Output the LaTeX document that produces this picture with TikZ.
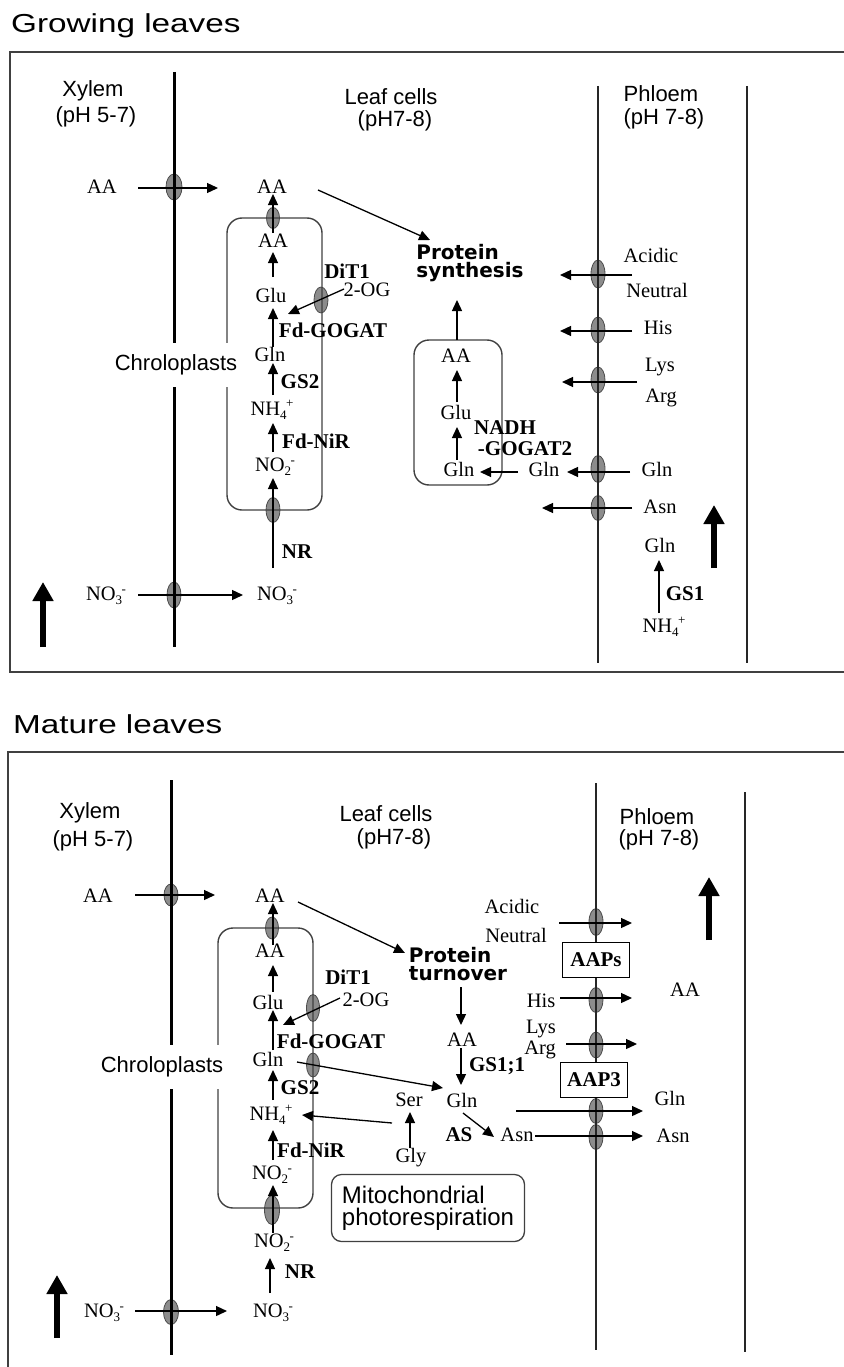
\documentclass[tikz,border=0pt]{standalone}
\usepackage{fontspec}
\setmainfont{Liberation Serif}
\setsansfont{Liberation Sans}
\newfontfamily\protfont{DejaVu Sans}
\usetikzlibrary{arrows.meta,shapes.geometric,calc}
\pgfdeclarelayer{bg}
\pgfsetlayers{bg,main}
\newcommand{\ionsub}[2]{\raisebox{-4pt}{\fontsize{13}{13}\selectfont #1}\kern-0.5pt\raisebox{7.5pt}{\fontsize{13}{13}\selectfont #2}}
\begin{document}
\begin{tikzpicture}[x=1pt,y=-1pt,
  lab/.style={font=\fontsize{20.5}{22}\selectfont, inner sep=0pt},
  enz/.style={font=\fontsize{21}{23}\selectfont\bfseries, inner sep=0pt},
  sf/.style={font=\sffamily\fontsize{22}{26}\selectfont, inner sep=0pt},
  ttl/.style={font=\sffamily\fontsize{26}{30}\selectfont, inner sep=0pt, anchor=base west},
  prot/.style={font=\protfont\bfseries\fontsize{20}{18.5}\selectfont, align=left, inner sep=0pt},
  arr/.style={-{Triangle[length=11pt,width=10pt]}, line width=1.3pt},
  bigarr/.style={-{Triangle[length=19pt,width=20pt]}, line width=6pt},
  memb/.style 2 args={ellipse, draw=black!70, fill=black!45, line width=0.8pt, minimum width=#1pt, minimum height=#2pt, inner sep=0pt},
  frm/.style={draw=black!75, line width=2pt},
  xyl/.style={line width=3pt},
  phl/.style={line width=1.5pt, black!85},
  cbox/.style={draw=black!75, line width=1.4pt, rounded corners=15pt},
  tbox/.style={draw, fill=white, line width=1.3pt, minimum width=67pt, minimum height=35pt, inner sep=0pt, font=\fontsize{21}{23}\selectfont\bfseries},
  mbox/.style={draw=black!75, line width=1.3pt, rounded corners=10pt, minimum width=193pt, minimum height=67pt, align=left, inner sep=0pt, font=\sffamily\fontsize{24}{22}\selectfont},
  chl/.style={font=\sffamily\fontsize{22}{26}\selectfont, fill=white, inner xsep=3pt, inner ysep=12pt}
]
\useasboundingbox (0,0) rectangle (843,1367);

% ---------- coordinates ----------
\coordinate (xt1) at (174,72);   \coordinate (xb1) at (174,647);
\coordinate (pa1) at (598,86);   \coordinate (pb1) at (598,663);
\coordinate (qa1) at (747,86);   \coordinate (qb1) at (747,663);
\coordinate (xt2) at (171,780);  \coordinate (xb2) at (171,1355);
\coordinate (pa2) at (596,783);  \coordinate (pb2) at (596,1350);
\coordinate (qa2) at (745,792);  \coordinate (qb2) at (745,1352);

\coordinate (acE1) at (560,275);
\coordinate (hiE1) at (560,331);
\coordinate (lyE1) at (562,382);
\coordinate (asE1) at (542,508);
\coordinate (acE2) at (632,923);
\coordinate (hiE2) at (632,998);
\coordinate (lyE2) at (637,1044);

\coordinate (bA1) at (43,647);  \coordinate (bB1) at (43,582);
\coordinate (bA2) at (714,568); \coordinate (bB2) at (714,505);
\coordinate (bA3) at (57,1338); \coordinate (bB3) at (57,1275);
\coordinate (bA4) at (709,940); \coordinate (bB4) at (709,877);

% ---------- background: frames, membranes, compartments ----------
\begin{pgfonlayer}{bg}
\draw[frm] (10,52) rectangle (855,672);
\draw[frm] (8,752) rectangle (855,1385);

\node[memb={16}{26}] (ex1a) at (174,187) {};
\node[memb={14}{26}] (ex1b) at (174,595) {};
\node[memb={13}{21}] (ec1t) at (273,218) {};
\node[memb={14}{26}] (ec1r) at (321,300) {};
\node[memb={14}{25}] (ec1b) at (273,510) {};
\node[memb={14}{28}] (ep1a) at (598,274) {};
\node[memb={14}{26}] (ep1b) at (598,330) {};
\node[memb={14}{26}] (ep1c) at (598,380) {};
\node[memb={14}{27}] (ep1d) at (598,469) {};
\node[memb={14}{25}] (ep1e) at (598,508) {};

\node[memb={14}{22}] (ex2a) at (171,895) {};
\node[memb={15}{25}] (ex2b) at (171,1312) {};
\node[memb={13}{22}] (ec2t) at (272,928) {};
\node[memb={13}{27}] (ec2r1) at (313,1008) {};
\node[memb={13}{24}] (ec2r2) at (313,1065) {};
\node[memb={15}{29}] (ec2b) at (272,1210) {};
\node[memb={14}{27}] (ep2a) at (596,922) {};
\node[memb={14}{25}] (ep2b) at (596,1000) {};
\node[memb={14}{26}] (ep2c) at (596,1045) {};
\node[memb={14}{25}] (ep2d) at (596,1111) {};
\node[memb={14}{25}] (ep2e) at (596,1137) {};

\draw[xyl] (xt1) -- (xb1);
\draw[xyl] (xt2) -- (xb2);
\draw[phl] (pa1) -- (pb1);
\draw[phl] (qa1) -- (qb1);
\draw[phl] (pa2) -- (pb2);
\draw[phl] (qa2) -- (qb2);
\draw[cbox] (227,218) rectangle (322,510);
\draw[cbox] (414,340) rectangle (502,485);
\draw[cbox] (218,928) rectangle (313,1208);
\end{pgfonlayer}

% ================= Panel 1: Growing leaves =================
\node[ttl] (t1) at (11,33) {\scalebox{1.28}[1]{Growing leaves}};
\node[sf] (xy1) at (93,91) {Xylem};
\node[sf] (xyp1) at (96,117) {(pH 5-7)};
\node[sf] (lc1) at (391,97) {Leaf cells};
\node[sf] (lcp1) at (395,121) {(pH7-8)};
\node[sf] (ph1) at (661,94) {Phloem};
\node[sf] (php1) at (664,119) {(pH 7-8)};
\node[chl] (chl1) at (176,365) {Chroloplasts};

\node[lab] (aaL1) at (102,187) {AA};
\node[lab] (aaC1) at (272,187) {AA};
\node[lab] (aaI1) at (273,241) {AA};
\node[lab] (glu1) at (271,295) {Glu};
\node[enz] (dit1) at (347,271) {DiT1};
\node[lab] (og1) at (367,290) {2-OG};
\node[enz] (gog1) at (333,330) {Fd-GOGAT};
\node[lab] (gln1) at (270,354) {Gln};
\node[enz] (gs2a) at (300,382) {GS2};
\node[lab] (nh1) at (272,410) {NH\ionsub{4}{+}};
\node[enz] (nir1) at (316,441) {Fd-NiR};
\node[lab] (no2a) at (275,467) {NO\ionsub{2}{-}};
\node[enz] (nr1) at (297,552) {NR};
\node[lab] (no3c1) at (277,596) {NO\ionsub{3}{-}};
\node[lab] (no3l1) at (106,596) {NO\ionsub{3}{-}};

\node[prot] (ps1) at (470,263) {Protein\\synthesis};
\node[lab] (aaM1) at (456,356) {AA};
\node[lab] (gluM1) at (456,412) {Glu};
\node[lab] (glnM1) at (459,469) {Gln};
\node[enz] (nadh) at (505,428) {NADH};
\node[enz] (gog2a) at (525,449) {-GOGAT2};
\node[lab] (glnX1) at (544,469) {Gln};

\node[lab] (acid1) at (651,255) {Acidic};
\node[lab] (neut1) at (657,290) {Neutral};
\node[lab] (his1) at (658,328) {His};
\node[lab] (lys1) at (660,367) {Lys};
\node[lab] (arg1) at (661,398) {Arg};
\node[lab] (glnP1) at (657,469) {Gln};
\node[lab] (asnP1) at (660,507) {Asn};
\node[lab] (glnB1) at (660,545) {Gln};
\node[enz] (gs1) at (685,594) {GS1};
\node[lab] (nhP1) at (664,627) {NH\ionsub{4}{+}};

\draw[arr] ($(aaL1)+(36,1)$) -- ($(aaC1)+(-54,1)$);
\draw[arr] ($(aaI1)+(0,-8)$) -- ($(aaC1)+(1,7)$);
\draw[arr] ($(glu1)+(2,-18)$) -- ($(aaI1)+(0,11)$);
\draw[arr] ($(og1)+(-23,-1)$) -- ($(gog1)+(-45,-16)$);
\draw[arr] ($(gln1)+(3,-7)$) -- ($(glu1)+(2,13)$);
\draw[arr] ($(nh1)+(1,-15)$) -- ($(gln1)+(3,9)$);
\draw[arr] ($(no2a)+(-2,-15)$) -- ($(nh1)+(1,13)$);
\draw[arr] ($(no3c1)+(-4,-28)$) -- ($(no2a)+(-2,11)$);
\draw[arr] ($(no3l1)+(32,-1)$) -- ($(no3c1)+(-34,-1)$);
\draw[arr] ($(aaC1)+(46,3)$) -- ($(ps1)+(-40,-23)$);
\draw[arr] ($(aaM1)+(1,-16)$) -- ($(ps1)+(-13,37)$);
\draw[arr] ($(gluM1)+(1,-10)$) -- ($(aaM1)+(1,14)$);
\draw[arr] ($(glnM1)+(-2,-9)$) -- ($(gluM1)+(1,15)$);
\draw[arr] ($(glnX1)+(-26,3)$) -- ($(glnM1)+(21,3)$);
\draw[arr] ($(glnP1)+(-27,3)$) -- ($(glnX1)+(23,3)$);
\draw[arr] ($(acid1)+(-19,20)$) -- (acE1);
\draw[arr] ($(his1)+(-26,3)$) -- (hiE1);
\draw[arr] ($(lys1)+(-23,15)$) -- (lyE1);
\draw[arr] ($(asnP1)+(-28,1)$) -- (asE1);
\draw[arr] ($(nhP1)+(-5,-14)$) -- ($(glnB1)+(-1,15)$);
\draw[bigarr] (bA1) -- (bB1);
\draw[bigarr] (bA2) -- (bB2);

% ================= Panel 2: Mature leaves =================
\node[ttl] (t2) at (13,733) {\scalebox{1.28}[1]{Mature leaves}};
\node[sf] (xy2) at (90,813) {Xylem};
\node[sf] (xyp2) at (93,841) {(pH 5-7)};
\node[sf] (lc2) at (386,814) {Leaf cells};
\node[sf] (lcp2) at (394,839) {(pH7-8)};
\node[sf] (ph2) at (657,817) {Phloem};
\node[sf] (php2) at (659,840) {(pH 7-8)};
\node[chl, inner xsep=4pt] (chl2) at (162,1067) {Chroloplasts};

\node[lab] (aaL2) at (98,896) {AA};
\node[lab] (aaC2) at (270,896) {AA};
\node[lab] (aaI2) at (270,951) {AA};
\node[lab] (glu2) at (268,1002) {Glu};
\node[enz] (dit2) at (348,977) {DiT1};
\node[lab] (og2) at (366,1000) {2-OG};
\node[enz] (gog2) at (331,1041) {Fd-GOGAT};
\node[lab] (gln2) at (268,1059) {Gln};
\node[enz] (gs2b) at (300,1088) {GS2};
\node[lab] (nh2) at (271,1115) {NH\ionsub{4}{+}};
\node[enz] (nir2) at (311,1150) {Fd-NiR};
\node[lab] (no2b) at (272,1175) {NO\ionsub{2}{-}};
\node[lab] (no2c) at (274,1243) {NO\ionsub{2}{-}};
\node[enz] (nr2) at (300,1272) {NR};
\node[lab] (no3c2) at (273,1313) {NO\ionsub{3}{-}};
\node[lab] (no3l2) at (104,1313) {NO\ionsub{3}{-}};

\node[prot] (pt) at (458,964) {Protein\\turnover};
\node[lab] (aaT) at (462,1040) {AA};
\node[enz] (gs11) at (497,1066) {GS1;1};
\node[lab] (glnT) at (462,1100) {Gln};
\node[lab] (ser) at (409,1100) {Ser};
\node[lab] (gly) at (411,1158) {Gly};
\node[enz] (as) at (459,1135) {AS};
\node[lab] (asnT) at (517,1135) {Asn};
\node[mbox] (mito) at (428,1208) {Mitochondrial\\photorespiration};

\node[lab] (acid2) at (512,906) {Acidic};
\node[lab] (neut2) at (516,935) {Neutral};
\node[lab] (his2) at (541,1001) {His};
\node[lab] (lys2) at (541,1029) {Lys};
\node[lab] (arg2) at (540,1050) {Arg};
\node[tbox] (aaps) at (596,960) {AAPs};
\node[tbox] (aap3) at (594,1080) {AAP3};
\node[lab] (aaR) at (685,990) {AA};
\node[lab] (glnR) at (670,1098) {Gln};
\node[lab] (asnR) at (673,1136) {Asn};

\draw[arr] ($(aaL2)+(37,-1)$) -- ($(aaC2)+(-55,-1)$);
\draw[arr] ($(aaI2)+(3,-6)$) -- ($(aaC2)+(3,7)$);
\draw[arr] ($(glu2)+(5,-10)$) -- ($(aaI2)+(3,14)$);
\draw[arr] ($(og2)+(-26,-2)$) -- ($(gog2)+(-48,-16)$);
\draw[arr] ($(gln2)+(5,-9)$) -- ($(glu2)+(5,8)$);
\draw[arr] ($(gln2)+(29,3)$) -- ($(glnT)+(-19,-12)$);
\draw[arr] ($(nh2)+(2,-15)$) -- ($(gln2)+(5,11)$);
\draw[arr] ($(ser)+(-17,23)$) -- ($(nh2)+(31,0)$);
\draw[arr] ($(gly)+(-1,-10)$) -- ($(ser)+(1,12)$);
\draw[arr] ($(no2b)+(1,-15)$) -- ($(nh2)+(2,15)$);
\draw[arr] ($(no2c)+(-1,-10)$) -- ($(no2b)+(1,10)$);
\draw[arr] ($(no3c2)+(-3,-20)$) -- ($(no2c)+(-4,15)$);
\draw[arr] ($(no3l2)+(31,-2)$) -- ($(no3c2)+(-46,-2)$);
\draw[arr] ($(aaC2)+(28,6)$) -- ($(pt)+(-53,-11)$);
\draw[arr] ($(pt)+(3,23)$) -- ($(aaT)+(-1,-15)$);
\draw[arr] ($(aaT)+(-1,8)$) -- ($(glnT)+(-1,-15)$);
\draw[arr] ($(glnT)+(1,13)$) -- ($(asnT)+(-23,2)$);
\draw[arr] ($(acid2)+(47,17)$) -- (acE2);
\draw[arr] ($(his2)+(19,-3)$) -- (hiE2);
\draw[arr] ($(arg2)+(26,-6)$) -- (lyE2);
\draw[arr] ($(glnT)+(54,11)$) -- ($(glnR)+(-27,13)$);
\draw[arr] ($(asnT)+(18,1)$) -- ($(asnR)+(-30,0)$);
\draw[bigarr] (bA3) -- (bB3);
\draw[bigarr] (bA4) -- (bB4);
\end{tikzpicture}
\end{document}
